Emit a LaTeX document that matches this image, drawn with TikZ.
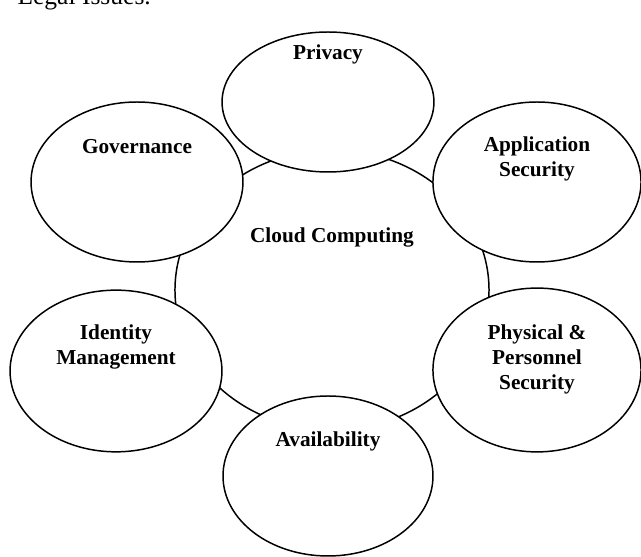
\documentclass[tikz,border=0pt]{standalone}
\usepackage{fontspec}
\setmainfont{Liberation Serif}
\usepackage{tikz}
\usetikzlibrary{shapes.geometric}
\tikzstyle{bubble} = [ellipse, draw, line width=0.7pt, fill=white, inner sep=0pt]
\tikzstyle{lbl} = [font=\fontsize{10}{11.6}\selectfont\bfseries, align=center, inner sep=0pt]

\begin{document}
\begin{tikzpicture}[x=0.47pt,y=-0.47pt]

\clip (0,0) rectangle (641,557);

\node[anchor=base west, font=\fontsize{12}{14}\selectfont] (legal) at (10,5) {Legal Issues.};

%big ellipse first, the others cover it
\node[bubble, minimum width=147.6pt, minimum height=131.6pt] (cloud) at (332,290) {};

\node[bubble, minimum width=99.6pt, minimum height=65.8pt] (priv) at (328,102) {};
\node[bubble, minimum width=99.6pt, minimum height=75.2pt] (gov) at (137,182) {};
\node[bubble, minimum width=97.8pt, minimum height=75.2pt] (app) at (537,182) {};
\node[bubble, minimum width=97.8pt, minimum height=77pt] (phys) at (537,370) {};
\node[bubble, minimum width=98.7pt, minimum height=75.2pt] (avail) at (328,476) {};
\node[bubble, minimum width=99.6pt, minimum height=76pt] (ident) at (116,371) {};

\node[lbl] (cloudtxt) at ([yshift=-41.4pt]cloud.north) {Cloud Computing};
\node[lbl] (privtxt) at ([yshift=-10.8pt]priv.north) {Privacy};
\node[lbl] (govtxt) at ([yshift=-21.2pt]gov.north) {Governance};
\node[lbl] (apptxt) at ([yshift=-27pt]app.north) {Application\\Security};
\node[lbl] (phystxt) at ([yshift=-33.8pt]phys.north) {Physical \&\\Personnel\\Security};
\node[lbl] (availtxt) at ([yshift=-21.6pt]avail.north) {Availability};
\node[lbl] (identtxt) at ([yshift=-27pt]ident.north) {Identity\\Management};

\end{tikzpicture}
\end{document}
